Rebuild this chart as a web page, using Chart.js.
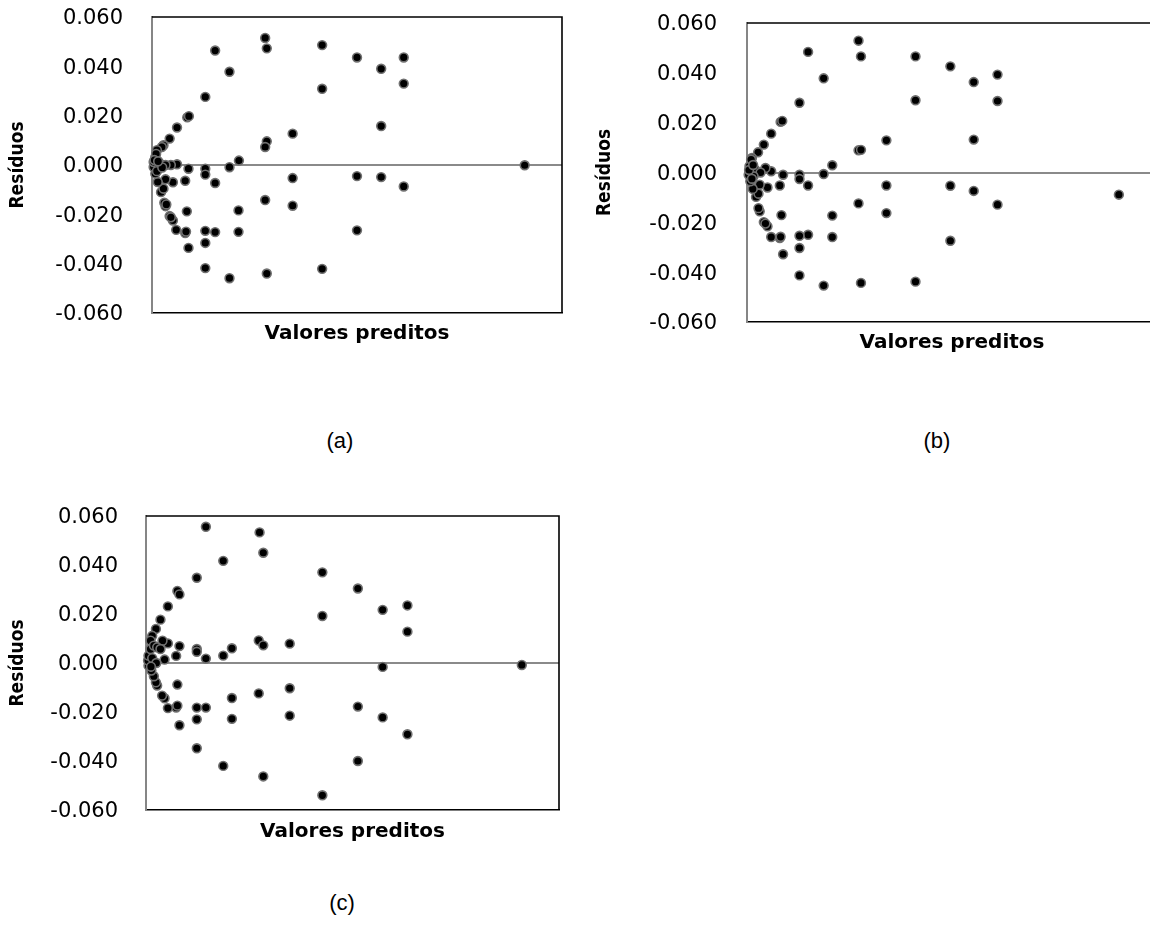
<!DOCTYPE html>
<html><head><meta charset="utf-8">
<script src="https://cdn.jsdelivr.net/npm/chart.js@4.4.1/dist/chart.umd.min.js"></script>
<style>
html,body{margin:0;padding:0;background:#fff;}
body{width:1150px;height:947px;overflow:hidden;position:relative;}
canvas{position:absolute;}
.cap{position:absolute;width:100px;text-align:center;font-family:"Liberation Sans",Arial,sans-serif;font-size:22px;line-height:22px;color:#000;}
</style></head><body>
<canvas id="ca" width="600" height="346" style="left:0px;top:0px;width:600px;height:346px"></canvas>
<canvas id="cb" width="600" height="355" style="left:590px;top:0px;width:600px;height:355px"></canvas>
<canvas id="cc" width="600" height="344" style="left:0px;top:500px;width:600px;height:344px"></canvas>
<div class="cap" style="left:290px;top:430px">(a)</div>
<div class="cap" style="left:887px;top:430px">(b)</div>
<div class="cap" style="left:292px;top:892px">(c)</div>
<script>
// ---- data ----
const yTicks = [-0.06, -0.04, -0.02, 0, 0.02, 0.04, 0.06];
const yTitle = "Resíduos";
const xTitle = "Valores preditos";

const aX = [27.6,28.0,15.4,41.5,50.0,61.4,55.9,18.9,61.4,41.5,13.0,8.6,9.0,6.1,55.9,34.3,28.0,27.6,4.3,2.8,2.4,1.2,21.2,18.9,90.9,6.1,4.6,8.9,13.0,13.0,15.4,8.1,5.1,3.3,50.0,55.9,61.4,34.3,34.3,27.6,21.1,8.5,21.1,15.4,13.0,8.1,8.3,5.9,50.0,13.0,8.9,13.0,18.9,28.0,41.5,5.1,4.3,4.6,3.3,3.0,3.5,2.2,2.8,1.4,0.8,0.4,0.4,0.8,1.0,2.0,3.3,1.6,1.2,2.5,0.6,1.5];
const aY = [0.0515,0.0473,0.0464,0.0486,0.0436,0.0436,0.0390,0.0378,0.0330,0.0309,0.0276,0.0193,0.0198,0.0152,0.0158,0.0127,0.0096,0.0073,0.0107,0.0080,0.0073,0.0060,0.0018,-0.0009,-0.0001,0.0003,0.0000,-0.0015,-0.0015,-0.0039,-0.0073,-0.0064,-0.0070,-0.0058,-0.0045,-0.0049,-0.0087,-0.0053,-0.0165,-0.0142,-0.0184,-0.0188,-0.0271,-0.0272,-0.0267,-0.0276,-0.0270,-0.0263,-0.0265,-0.0316,-0.0336,-0.0418,-0.0459,-0.0440,-0.0421,-0.0225,-0.0207,-0.0212,-0.0167,-0.0153,-0.0160,-0.0110,-0.0096,-0.0069,-0.0035,-0.0008,0.0012,0.0032,0.0045,0.0005,0.0000,-0.0015,-0.0025,-0.0010,0.0020,0.0015];

const bX = [27.2,14.9,27.8,41.1,49.6,55.3,61.1,18.7,41.1,61.1,12.8,8.2,8.6,5.9,4.1,2.7,1.2,34.0,55.3,27.2,27.8,20.8,18.7,90.7,8.8,5.9,4.5,12.8,12.8,14.9,8.0,5.0,3.1,34.0,49.6,55.3,61.1,27.2,34.0,20.8,8.4,20.8,14.9,12.8,8.0,8.2,5.9,49.6,12.8,8.8,12.8,18.7,27.8,41.1,5.0,4.1,4.5,3.1,2.8,2.2,2.8,1.4,0.8,0.4,0.6,1.0,2.0,3.3,1.6,1.2,0.5,1.5];
const bY = [0.0529,0.0484,0.0466,0.0466,0.0426,0.0363,0.0393,0.0378,0.0290,0.0287,0.0280,0.0203,0.0207,0.0156,0.0112,0.0081,0.0058,0.0129,0.0132,0.0089,0.0091,0.0029,-0.0006,-0.0089,-0.0009,0.0005,0.0018,-0.0009,-0.0026,-0.0052,-0.0052,-0.0060,-0.0049,-0.0052,-0.0053,-0.0074,-0.0129,-0.0124,-0.0163,-0.0173,-0.0171,-0.0259,-0.0250,-0.0254,-0.0263,-0.0258,-0.0259,-0.0274,-0.0303,-0.0328,-0.0413,-0.0454,-0.0443,-0.0438,-0.0216,-0.0199,-0.0205,-0.0156,-0.0143,-0.0098,-0.0085,-0.0066,-0.0035,-0.0009,0.0025,0.0052,0.0011,0.0000,-0.0015,-0.0025,0.0010,0.0030];

const cX = [14.5,27.5,28.4,18.7,12.3,42.7,51.3,57.3,63.3,63.3,42.7,7.6,8.1,5.3,3.5,2.4,1.5,1.1,34.8,27.3,28.4,20.8,18.7,14.5,12.3,12.3,8.1,7.3,5.3,4.0,4.5,57.3,91.0,7.6,34.8,27.3,20.8,51.3,57.3,63.3,34.8,20.8,12.3,14.5,7.3,5.3,7.6,12.3,8.1,12.3,18.7,28.4,42.7,51.3,4.5,3.9,2.7,2.4,1.9,1.3,0.6,0.5,0.6,1.1,1.9,2.7,3.5,1.5,2.5,1.2];
const cY = [0.0556,0.0533,0.0450,0.0417,0.0348,0.0370,0.0304,0.0217,0.0235,0.0128,0.0192,0.0294,0.0280,0.0231,0.0177,0.0139,0.0111,0.0091,0.0079,0.0092,0.0072,0.0060,0.0030,0.0018,0.0057,0.0046,0.0069,0.0029,0.0080,0.0091,0.0014,-0.0016,-0.0008,-0.0088,-0.0103,-0.0124,-0.0143,-0.0178,-0.0222,-0.0291,-0.0215,-0.0228,-0.0182,-0.0182,-0.0182,-0.0184,-0.0174,-0.0230,-0.0254,-0.0348,-0.0420,-0.0463,-0.0540,-0.0400,-0.0144,-0.0133,-0.0092,-0.0079,-0.0054,-0.0031,-0.0011,0.0010,0.0030,0.0057,0.0071,0.0064,0.0057,0.0020,0.0000,-0.0015];

// ---- rendering ----
const framePlugin = {
  id: 'frame',
  afterDatasetsDraw(chart) {
    const {ctx, chartArea: a} = chart;
    ctx.save();
    ctx.strokeStyle = '#000';
    ctx.lineWidth = 1.6;
    ctx.beginPath();
    ctx.moveTo(a.left, a.top);
    ctx.lineTo(a.right, a.top);
    ctx.lineTo(a.right, a.bottom);
    ctx.stroke();
    ctx.restore();
  }
};

function makePanel(id, xs, ys, g) {
  const pts = xs.map((x, i) => ({x: x, y: ys[i]}));
  return new Chart(document.getElementById(id), {
    type: 'scatter',
    data: {datasets: [{
      data: pts,
      pointRadius: 4.4,
      pointHoverRadius: 4.4,
      pointBorderWidth: 1.6,
      pointBorderColor: '#707070',
      pointBackgroundColor: '#000000',
      clip: false
    }]},
    options: {
      responsive: false,
      animation: false,
      devicePixelRatio: 1,
      events: [],
      layout: {padding: {left: g.pl, top: g.pt, right: g.pr, bottom: 0}},
      plugins: {legend: {display: false}, tooltip: {enabled: false}},
      scales: {
        x: {
          type: 'linear', min: 0, max: 100,
          ticks: {display: false},
          grid: {display: false, drawTicks: false},
          border: {display: true, color: '#000', width: 1.6},
          title: {display: true, text: xTitle, color: '#000', padding: 0,
                  font: {family: 'DejaVu Sans', size: 20, weight: 'bold'}},
          afterFit(s) { s.height = g.xh; s.paddingTop = 0; s.paddingBottom = 0; }
        },
        y: {
          type: 'linear', min: -0.06, max: 0.06,
          afterBuildTicks(s) { s.ticks = yTicks.map(v => ({value: v})); },
          ticks: {
            color: '#000', padding: g.tp, labelOffset: 2,
            font: {family: 'DejaVu Sans', size: 21},
            callback: v => (Math.abs(v) < 1e-9 ? 0 : v).toFixed(3)
          },
          grid: {
            drawTicks: false,
            color: c => (c.tick && Math.abs(c.tick.value) < 1e-9) ? '#8a8a8a' : 'rgba(0,0,0,0)',
            lineWidth: 2
          },
          border: {display: true, color: '#868686', width: 2},
          title: {display: true, text: yTitle, color: '#000', padding: 0,
                  font: {family: 'DejaVu Sans Condensed', size: 19, weight: 'bold'}},
          afterFit(s) { s.width = g.yw; s.paddingTop = 0; s.paddingBottom = 0; }
        }
      }
    },
    plugins: [framePlugin]
  });
}

makePanel('ca', aX, aY, {pl: 7, pt: 17, pr: 38, xh: 33, yw: 145, tp: 29});
makePanel('cb', bX, bY, {pl: 4, pt: 23, pr: 33, xh: 33, yw: 153, tp: 30});
makePanel('cc', cX, cY, {pl: 7, pt: 16, pr: 41, xh: 34, yw: 139, tp: 28});
</script>
</body></html>
